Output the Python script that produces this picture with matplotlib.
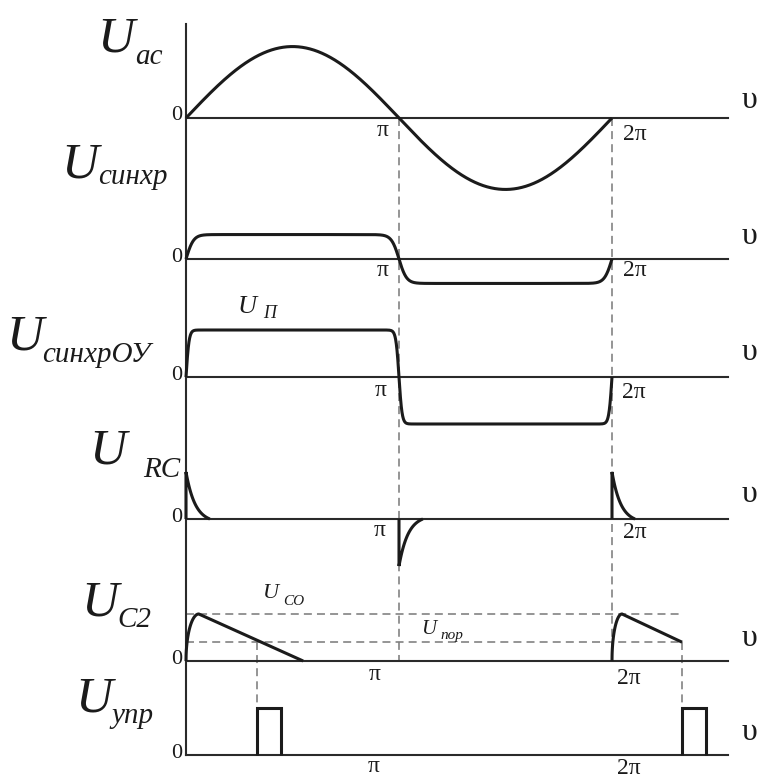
import numpy as np
import matplotlib
matplotlib.use("Agg")
import matplotlib.pyplot as plt

# ---------------- data (phase in units of pi, amplitude in units of U_П) ----------------
ac_amplitude = 1.52
sync_amplitude = 0.52
sync_sharpness = 9.0
ou_amplitude = 1.0
ou_sharpness = 22.0
rc_spike_phase = [0.0, 1.0, 2.0]
rc_spike_sign = [1, -1, 1]
rc_spike_amplitude = 1.0
rc_decay_width = [0.112, 0.112, 0.108]
c2_start = [0.0, 2.0]
c2_peak_phase = [0.06, 2.047]
c2_peak_value = [1.0, 1.0]
c2_end_phase = [0.55, 2.329]
c2_end_value = [0.0, 0.4]
u_co_level = 1.0
u_threshold = 0.4
pulse_start = [0.333, 2.329]
pulse_width = 0.113
pulse_height = 1.0
axis_end = 2.545

row_titles = ["ac", "синхр", "синхрОУ", "RC", "C2", "упр"]

# ---------------- layout ----------------
W, H = 770, 780
PX0 = 186          # pixel of phase 0
PX_PER_PI = 213.0
PX_PER_UNIT = 47.0
row_base_px = [118, 259, 377, 519, 661, 755]
axis_top_px = 24

FONT = "Liberation Serif"
INK = "#1b1b1b"
AXC = "#2a2a2a"
DASHC = "#7d7d7d"

fig = plt.figure(figsize=(W / 100, H / 100), dpi=100)
ax = fig.add_axes([0, 0, 1, 1])
ax.set_xlim(-PX0 / PX_PER_PI, (W - PX0) / PX_PER_PI)
ax.set_ylim(-H / PX_PER_UNIT, 0)
ax.axis("off")


def Y(row, v):
    return -row_base_px[row] / PX_PER_UNIT + np.asarray(v, dtype=float)


def T(px, py, s, size, ha="left", va="baseline", style="normal"):
    fig.text(px / W, 1 - py / H, s, fontsize=size, ha=ha, va=va,
             family=FONT, style=style, color=INK)


wave_kw = dict(color=INK, lw=2.2, solid_capstyle="butt", solid_joinstyle="miter", zorder=4)
dash_kw = dict(color=DASHC, lw=1.15, dashes=(5, 3.2), zorder=2)

# axes
ax.plot([0, 0], [-axis_top_px / PX_PER_UNIT, Y(5, 0)], color=AXC, lw=1.5, zorder=3)
for r in range(6):
    ax.plot([0, axis_end], [Y(r, 0), Y(r, 0)], color=AXC, lw=1.5, zorder=3)

th = np.linspace(0, 2, 3001)

# U_ac
ax.plot(th, Y(0, ac_amplitude * np.sin(np.pi * th)), **wave_kw)

# U_синхр
ax.plot(th, Y(1, sync_amplitude * np.tanh(sync_sharpness * np.sin(np.pi * th))
              / np.tanh(sync_sharpness)), **wave_kw)

# U_синхрОУ
ax.plot(th, Y(2, ou_amplitude * np.tanh(ou_sharpness * np.sin(np.pi * th))
              / np.tanh(ou_sharpness)), **wave_kw)

# U_RC spikes
for p, s, w in zip(rc_spike_phase, rc_spike_sign, rc_decay_width):
    tau = w / 2.6
    t = np.linspace(0, w, 120)
    v = s * rc_spike_amplitude * (np.exp(-t / tau) - np.exp(-w / tau)) / (1 - np.exp(-w / tau))
    ax.plot(np.r_[p, p + t], Y(3, np.r_[0, v]), **wave_kw)

# U_C2
for st, pp, pv, ep, ev in zip(c2_start, c2_peak_phase, c2_peak_value, c2_end_phase, c2_end_value):
    t = np.linspace(0, 1, 120)
    xr = st + (pp - st) * t
    vr = pv * np.sqrt(1 - (1 - t) ** 2)
    ax.plot(np.r_[xr, ep], Y(4, np.r_[vr, ev]), **wave_kw)

# U_упр pulses
for ps in pulse_start:
    ax.plot([ps, ps, ps + pulse_width, ps + pulse_width],
            Y(5, [0, pulse_height, pulse_height, 0]), **wave_kw)

# dashed guides
for p in [1.0, 2.0]:
    ax.plot([p, p], [Y(0, 0), Y(4, 0)], **dash_kw)
for lvl in [u_co_level, u_threshold]:
    ax.plot([0, c2_end_phase[1]], [Y(4, lvl), Y(4, lvl)], **dash_kw)
for ps in pulse_start:
    ax.plot([ps, ps], [Y(4, u_threshold), Y(5, pulse_height)], **dash_kw)

# ---------------- text ----------------
U_SIZE = 37
SUB_SIZE = 21
u_pos = [(97, 52), (61, 177), (6, 350), (89, 463), (81, 615), (75, 712)]
sub_pos = [(135, 64), (98, 184), (42, 362), (143, 477), (117, 627), (111, 723)]
for (ux, uy), (sx, sy), name in zip(u_pos, sub_pos, row_titles):
    T(ux, uy, "U", U_SIZE, style="italic")
    T(sx, sy, name, SUB_SIZE, style="italic")

# annotations
T(238, 313, "U", 19, style="italic")
T(263, 318, "П", 13, style="italic")
T(263, 598, "U", 16, style="italic")
T(283, 605, "CO", 11, style="italic")
T(421, 634, "U", 15, style="italic")
T(440, 639, "пор", 11, style="italic")

# zero labels, pi labels, 2pi labels, upsilon
for r in range(6):
    T(182, row_base_px[r] - 2, "0", 16, ha="right", va="center")
pi_pos = [(383, 131), (383, 271), (381, 390), (380, 530), (375, 675), (374, 767)]
for x, y in pi_pos:
    T(x, y, "π", 17, ha="center", va="center")
pi2_pos = [(635, 134), (635, 270), (634, 393), (635, 533), (629, 678), (629, 768)]
for x, y in pi2_pos:
    T(x, y, "2π", 17, ha="center", va="center")
ups_y = [100, 237, 353, 495, 638, 733]
for y in ups_y:
    T(750, y, "υ", 23, ha="center", va="center")

fig.savefig("out.png", dpi=100)
